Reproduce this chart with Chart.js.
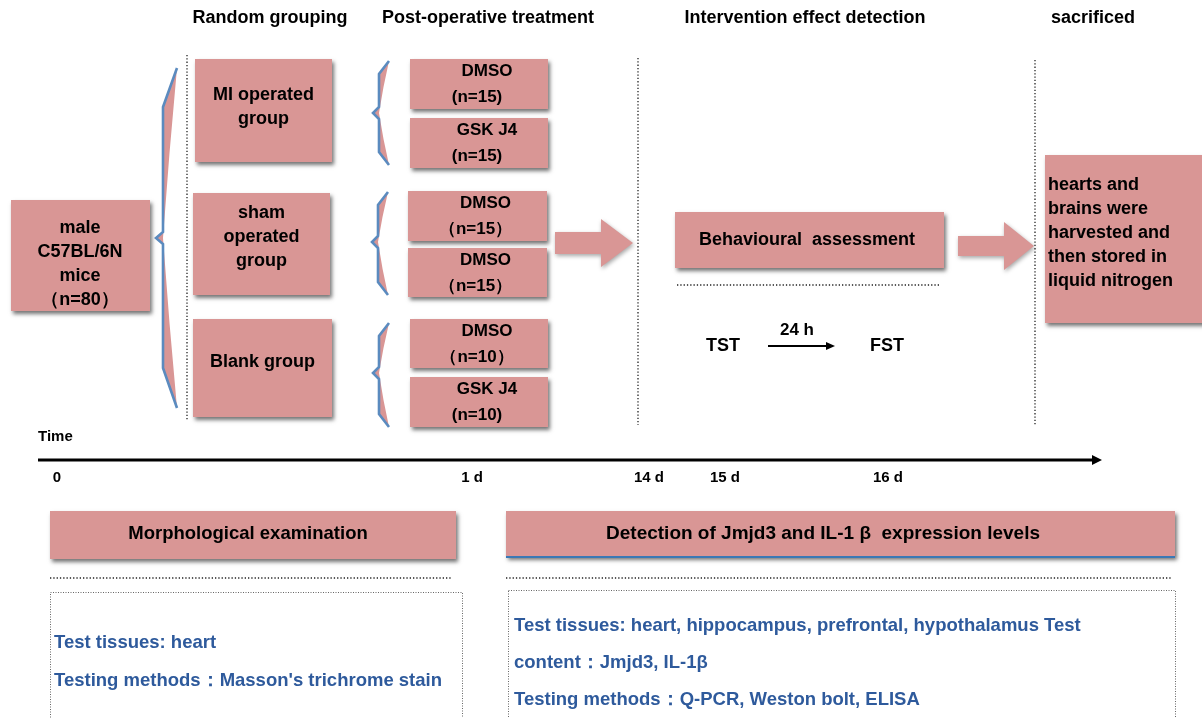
<!DOCTYPE html>
<html>
<head>
<meta charset="utf-8">
<script src="https://cdn.jsdelivr.net/npm/chart.js@4"></script>
<style>
  html, body { margin: 0; padding: 0; background: #fff; }
  canvas { display: block; }
</style>
</head>
<body>
<canvas id="chart" width="1202" height="718"></canvas>
<script>
// study design data
const stageTitles = ['Random grouping', 'Post-operative treatment', 'Intervention effect detection', 'sacrificed'];
const cohortLines = ['male', 'C57BL/6N', 'mice', '（n=80）'];
const groupNames = [['MI operated', 'group'], ['sham', 'operated', 'group'], ['Blank group']];
const treatments = ['DMSO', 'GSK J4', 'DMSO', 'DMSO', 'DMSO', 'GSK J4'];
const treatmentN = ['(n=15)', '(n=15)', '（n=15）', '（n=15）', '（n=10）', '(n=10)'];
const assessment = 'Behavioural  assessment';
const behaviourTests = ['TST', 'FST'];
const testGap = '24 h';
const sacrificeLines = ['hearts and', 'brains were', 'harvested and', 'then stored in', 'liquid nitrogen'];
const timeLabel = 'Time';
const timeTicks = ['0', '1 d', '14 d', '15 d', '16 d'];
const assayTitles = ['Morphological examination', 'Detection of Jmjd3 and IL-1 β  expression levels'];
const assayDetails = [
  ['Test tissues: heart', 'Testing methods：Masson\'s trichrome stain'],
  ['Test tissues: heart, hippocampus, prefrontal, hypothalamus Test', 'content：Jmjd3, IL-1β', 'Testing methods：Q-PCR, Weston bolt, ELISA']
];

// layout (scale units = picture pixels)
const titleX = [270, 488, 805, 1093];
const cohortBox = [11, 200, 150, 311];
const groupBoxes = [[195, 59, 332, 162], [193, 193, 330, 295], [193, 319, 332, 417]];
const treatBoxes = [[410, 59, 548, 109], [410, 118, 548, 168], [408, 191, 547, 241], [408, 248, 547, 297], [410, 319, 548, 368], [410, 377, 548, 427]];
const tickX = [57, 472, 649, 725, 888];
const PINK = '#d99695';
const BLUE_TXT = '#2e5a9c';
const BRACE = '#5b8bbf';
const FONT = '"Liberation Sans", Arial, sans-serif';

const diagram = {
  id: 'diagram',
  beforeDraw(chart) {
    const c = chart.ctx;
    c.save();
    c.fillStyle = '#fff';
    c.fillRect(0, 0, chart.width, chart.height);
    c.restore();
  },
  afterDraw(chart) {
    const c = chart.ctx;
    const sx = chart.scales.x, sy = chart.scales.y;
    const X = v => sx.getPixelForValue(v);
    const Y = v => sy.getPixelForValue(v);

    function box(b) {
      c.save();
      c.shadowColor = 'rgba(0,0,0,0.55)';
      c.shadowBlur = 4;
      c.shadowOffsetX = 2;
      c.shadowOffsetY = 3;
      c.fillStyle = PINK;
      c.fillRect(X(b[0]), Y(b[1]), X(b[2]) - X(b[0]), Y(b[3]) - Y(b[1]));
      c.restore();
    }
    function text(s, x, y, size, align, color) {
      c.save();
      c.font = 'bold ' + (size || 17) + 'px ' + FONT;
      c.textAlign = align || 'center';
      c.textBaseline = 'middle';
      c.fillStyle = color || '#000';
      c.fillText(s, X(x), Y(y));
      c.restore();
    }
    function dotted(x0, y0, x1, y1) {
      c.save();
      c.strokeStyle = '#222';
      c.lineWidth = 1.3;
      c.setLineDash([1.3, 2]);
      c.beginPath();
      c.moveTo(X(x0), Y(y0));
      c.lineTo(X(x1), Y(y1));
      c.stroke();
      c.restore();
    }
    function dottedRect(x0, y0, x1, y1) {
      c.save();
      c.strokeStyle = '#666';
      c.lineWidth = 1;
      c.setLineDash([1, 1.5]);
      c.strokeRect(X(x0) + 0.5, Y(y0) + 0.5, X(x1) - X(x0), Y(y1) - Y(y0));
      c.restore();
    }
    // brace: top tip, vertical x, point, bottom tip
    function brace(xTip, xBar, xPt, yTop, yBend1, yMid, yBend2, yBot, bulge) {
      c.save();
      c.fillStyle = PINK;
      c.beginPath();
      c.moveTo(X(xTip), Y(yTop));
      c.lineTo(X(xBar), Y(yBend1));
      c.lineTo(X(xBar), Y(yMid - 6));
      c.lineTo(X(xPt), Y(yMid));
      c.lineTo(X(xBar), Y(yMid + 6));
      c.lineTo(X(xBar), Y(yBend2));
      c.lineTo(X(xTip), Y(yBot));
      c.quadraticCurveTo(X(xBar + bulge), Y((yMid + yBot) / 2), X(xBar), Y(yMid));
      c.quadraticCurveTo(X(xBar + bulge), Y((yTop + yMid) / 2), X(xTip), Y(yTop));
      c.fill();
      c.strokeStyle = BRACE;
      c.lineWidth = 2.6;
      c.beginPath();
      c.moveTo(X(xTip), Y(yTop));
      c.lineTo(X(xBar), Y(yBend1));
      c.lineTo(X(xBar), Y(yMid - 6));
      c.lineTo(X(xPt), Y(yMid));
      c.lineTo(X(xBar), Y(yMid + 6));
      c.lineTo(X(xBar), Y(yBend2));
      c.lineTo(X(xTip), Y(yBot));
      c.stroke();
      c.restore();
    }
    function blockArrow(x0, x1, xHead, yc, shaftH, headH) {
      c.save();
      c.shadowColor = 'rgba(0,0,0,0.35)';
      c.shadowBlur = 4;
      c.shadowOffsetX = 1;
      c.shadowOffsetY = 2;
      c.fillStyle = PINK;
      c.beginPath();
      c.moveTo(X(x0), Y(yc - shaftH / 2));
      c.lineTo(X(xHead), Y(yc - shaftH / 2));
      c.lineTo(X(xHead), Y(yc - headH / 2));
      c.lineTo(X(x1), Y(yc));
      c.lineTo(X(xHead), Y(yc + headH / 2));
      c.lineTo(X(xHead), Y(yc + shaftH / 2));
      c.lineTo(X(x0), Y(yc + shaftH / 2));
      c.closePath();
      c.fill();
      c.restore();
    }

    // stage titles
    stageTitles.forEach((t, i) => text(t, titleX[i], 18, 18));

    // stage separators
    dotted(187, 55, 187, 421);
    dotted(638, 58, 638, 425);
    dotted(1035, 60, 1035, 425);

    // cohort
    box(cohortBox);
    cohortLines.forEach((t, i) => text(t, 80, 228 + i * 24, 18));
    brace(177, 163, 156, 68, 107, 238, 368, 408, 6);

    // groups
    const groupTextY = [[95, 119], [213, 237, 261], [362]];
    groupBoxes.forEach((b, i) => {
      box(b);
      groupNames[i].forEach((t, j) => text(t, (b[0] + b[2]) / 2, groupTextY[i][j], 18));
    });

    // treatment braces
    brace(389, 379, 373, 61, 74, 113, 152, 165, 4);
    brace(388, 378, 372, 192, 205, 242, 282, 295, 4);
    brace(389, 379, 373, 323, 336, 373, 414, 427, 4);

    // treatments
    treatBoxes.forEach((b, i) => {
      box(b);
      const cx = (b[0] + b[2]) / 2;
      text(treatments[i], cx + 8, b[1] + 12, 17);
      text(treatmentN[i], cx - 2, b[1] + 38, 17);
    });

    blockArrow(555, 633, 601, 243, 22, 48);

    // behaviour
    box([675, 212, 944, 268]);
    text(assessment, 807, 240, 18);
    dotted(677, 285, 940, 285);
    text(behaviourTests[0], 723, 346, 18);
    text(behaviourTests[1], 887, 346, 18);
    text(testGap, 797, 330, 17);
    c.save();
    c.strokeStyle = '#000';
    c.lineWidth = 2;
    c.beginPath();
    c.moveTo(X(768), Y(346));
    c.lineTo(X(828), Y(346));
    c.stroke();
    c.fillStyle = '#000';
    c.beginPath();
    c.moveTo(X(835), Y(346));
    c.lineTo(X(826), Y(342));
    c.lineTo(X(826), Y(350));
    c.closePath();
    c.fill();
    c.restore();

    blockArrow(958, 1034, 1004, 246, 20, 48);

    // sacrifice
    box([1045, 155, 1206, 323]);
    sacrificeLines.forEach((t, i) => text(t, 1048, 185 + i * 24, 18, 'left'));

    // timeline
    text(timeLabel, 38, 437, 15, 'left');
    c.save();
    c.strokeStyle = '#000';
    c.lineWidth = 3;
    c.beginPath();
    c.moveTo(X(38), Y(460));
    c.lineTo(X(1094), Y(460));
    c.stroke();
    c.fillStyle = '#000';
    c.beginPath();
    c.moveTo(X(1102), Y(460));
    c.lineTo(X(1092), Y(455));
    c.lineTo(X(1092), Y(465));
    c.closePath();
    c.fill();
    c.restore();
    timeTicks.forEach((t, i) => text(t, tickX[i], 478, 15));

    // assays
    box([50, 511, 456, 559]);
    text(assayTitles[0], 248, 534, 18.5);
    dotted(50, 578, 452, 578);
    dottedRect(50, 592, 462, 730);
    assayDetails[0].forEach((t, i) => text(t, 54, 643 + i * 38, 18.5, 'left', BLUE_TXT));

    box([506, 511, 1175, 557]);
    c.save();
    c.strokeStyle = '#3a78b5';
    c.lineWidth = 2;
    c.beginPath();
    c.moveTo(X(506), Y(557));
    c.lineTo(X(1175), Y(557));
    c.stroke();
    c.restore();
    text(assayTitles[1], 823, 534, 19);
    dotted(506, 578, 1172, 578);
    dottedRect(508, 590, 1175, 730);
    assayDetails[1].forEach((t, i) => text(t, 514, 626 + i * 37, 18.5, 'left', BLUE_TXT));
  }
};

new Chart(document.getElementById('chart'), {
  type: 'scatter',
  data: { datasets: [] },
  options: {
    responsive: false,
    animation: false,
    layout: { padding: 0 },
    scales: {
      x: { type: 'linear', min: 0, max: 1202, display: false },
      y: { type: 'linear', min: 0, max: 718, reverse: true, display: false }
    },
    plugins: { legend: { display: false }, tooltip: { enabled: false } }
  },
  plugins: [diagram]
});
</script>
</body>
</html>
